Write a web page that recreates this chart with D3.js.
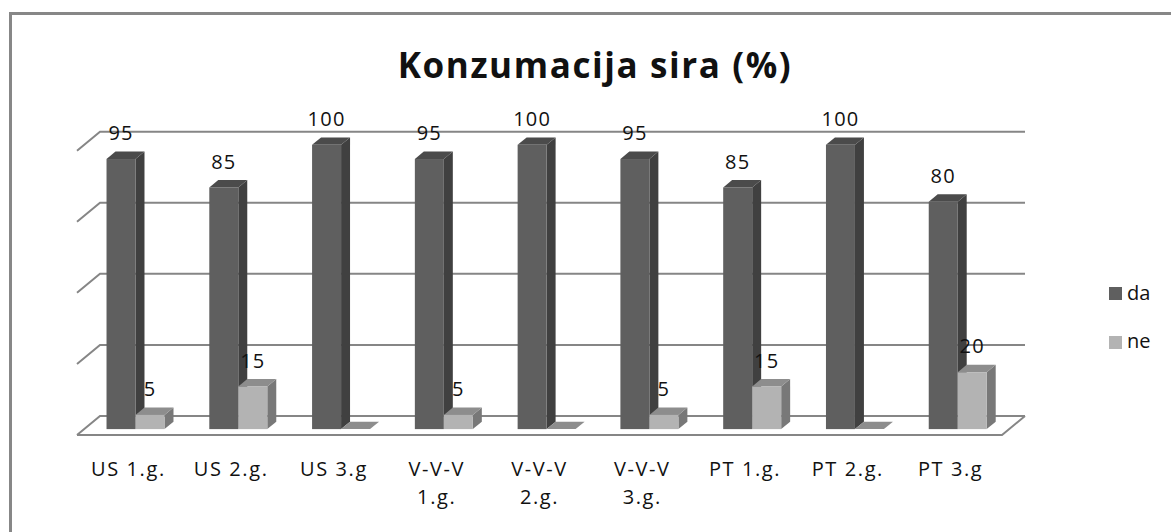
<!DOCTYPE html>
<html>
<head>
<meta charset="utf-8">
<script src="https://cdn.jsdelivr.net/npm/d3@7"></script>
<style>
  body { margin: 0; background: #fff; }
  text { font-family: "Open Sans", Lato, sans-serif; fill: #111; }
</style>
</head>
<body>
<svg id="chart" width="1171" height="532"></svg>
<script>
var categories = ['US 1.g.', 'US 2.g.', 'US 3.g', 'V-V-V 1.g.', 'V-V-V 2.g.', 'V-V-V 3.g.', 'PT 1.g.', 'PT 2.g.', 'PT 3.g']
var da = [95, 85, 100, 95, 100, 95, 85, 100, 80]
var ne = [5, 15, 0, 5, 0, 5, 15, 0, 20]
var seriesNames = ['da', 'ne']
var yTicks = [0, 25, 50, 75, 100]

;(function () {
  var svg = d3.select('#chart')

  // depth of the 3d box (full depth offset)
  var depthX = 23
  var depthY = -19
  var z0 = 0.31 // front of bars
  var z1 = 0.70 // back of bars

  var x = d3.scaleBand().domain(categories).range([77, 1002])
  var y = d3.scaleLinear().domain([0, 100]).range([435, 150.7])
  var barW = 29

  var faces = {
    da: { front: '#5f5f5f', side: '#404040', top: '#4b4b4b' },
    ne: { front: '#b3b3b3', side: '#787878', top: '#8d8d8d' }
  }

  function p (px, v, z) {
    return [px + depthX * z, y(v) + depthY * z]
  }

  // outer border (only left and top are inside the picture)
  svg.append('path')
      .attr('d', 'M10.5,600V13.5H1200')
      .attr('fill', 'none')
      .attr('stroke', '#878787')
      .attr('stroke-width', 3)

  svg.append('text')
      .attr('x', 595)
      .attr('y', 78)
      .attr('text-anchor', 'middle')
      .style('font-size', '35px')
      .style('font-weight', 'bold')
      .style('letter-spacing', '1.6px')
      .text('Konzumacija sira (%)')

  var grid = svg.append('g')
      .attr('stroke', '#868686')
      .attr('stroke-width', 2)
      .attr('fill', 'none')

  var x0 = x.range()[0]
  var x1 = x.range()[1]

  yTicks.forEach(function (t) {
    var a = p(x0, t, 0)
    var b = p(x0, t, 1)
    var c = p(x1, t, 1)
    grid.append('path').attr('d', d3.line()([a, b, c]))
  })

  // floor
  grid.append('path')
      .attr('d', d3.line()([p(x0, 0, 0), p(x1, 0, 0), p(x1, 0, 1)]))

  var series = [da, ne]
  var bars = svg.append('g')

  categories.forEach(function (cat, i) {
    var cx = x(cat) + x.bandwidth() / 2
    series.forEach(function (vals, s) {
      var v = vals[i]
      var f = faces[seriesNames[s]]
      var l = cx - barW + s * barW
      var r = l + barW
      var g = bars.append('g')
      g.append('path')
          .attr('d', d3.line()([p(r, 0, z0), p(r, 0, z1), p(r, v, z1), p(r, v, z0)]) + 'Z')
          .attr('fill', f.side)
      g.append('path')
          .attr('d', d3.line()([p(l, v, z0), p(l, v, z1), p(r, v, z1), p(r, v, z0)]) + 'Z')
          .attr('fill', f.top)
      if (v > 0) {
        var a = p(l, v, z0)
        var b = p(r, 0, z0)
        g.append('rect')
            .attr('x', a[0])
            .attr('y', a[1])
            .attr('width', b[0] - a[0])
            .attr('height', b[1] - a[1])
            .attr('fill', f.front)
      }
    })
  })

  // data labels
  categories.forEach(function (cat, i) {
    var cx = x(cat) + x.bandwidth() / 2
    series.forEach(function (vals, s) {
      var v = vals[i]
      if (v === 0) return
      var l = cx - barW + s * barW
      var pt = p(l + barW / 2, v, z1)
      svg.append('text')
          .attr('x', pt[0] - depthX * (z1 - z0))
          .attr('y', pt[1] - 11.5)
          .attr('text-anchor', 'middle')
          .style('font-size', '20px')
          .style('letter-spacing', '1.2px')
          .text(v)
    })
  })

  // category labels
  var labels = svg.append('g')
  categories.forEach(function (cat) {
    var parts = cat.indexOf('V-V-V') === 0 ? ['V-V-V', cat.slice(6)] : [cat]
    var t = labels.append('text')
        .attr('text-anchor', 'middle')
        .attr('x', x(cat) + x.bandwidth() / 2)
        .attr('y', 476)
        .style('font-size', '20px')
        .style('letter-spacing', '1.6px')
    parts.forEach(function (s, k) {
      t.append('tspan')
          .attr('x', x(cat) + x.bandwidth() / 2)
          .attr('dy', k === 0 ? 0 : 28)
          .text(s)
    })
  })

  // legend
  var legend = svg.append('g')
  seriesNames.forEach(function (name, k) {
    legend.append('rect')
        .attr('x', 1109)
        .attr('y', 287 + k * 49)
        .attr('width', 13)
        .attr('height', 13)
        .attr('fill', faces[name].front)
    legend.append('text')
        .attr('x', 1127)
        .attr('y', 300 + k * 48)
        .style('font-size', '20px')
        .text(name)
  })
})()
</script>
</body>
</html>
